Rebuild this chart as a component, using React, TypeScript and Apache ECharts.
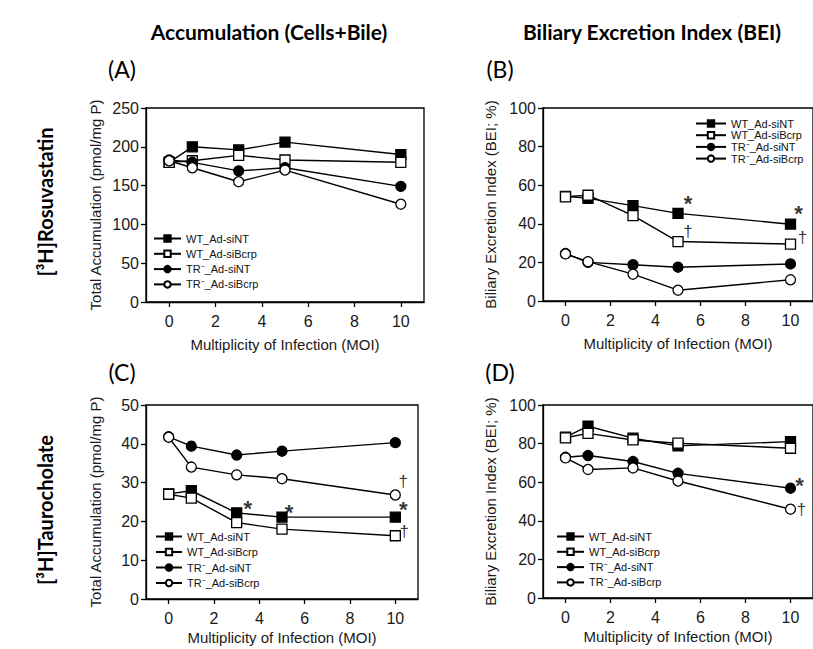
import React, { useEffect, useRef } from 'react';
import * as echarts from 'echarts';

// ---------- data ----------
const moi = [0, 1, 3, 5, 10];
const xTickValues = [0, 2, 4, 6, 8, 10];
const seriesNames = ['WT_Ad-siNT', 'WT_Ad-siBcrp', 'TR\u207B_Ad-siNT', 'TR\u207B_Ad-siBcrp'];

// (A) Rosuvastatin total accumulation (pmol/mg P)
const rosuAccWtSiNT = [180, 200, 196, 206, 190];
const rosuAccWtSiBcrp = [180, 182, 189, 183, 180];
const rosuAccTrSiNT = [183, 180, 169, 173, 149];
const rosuAccTrSiBcrp = [182, 173, 155, 170, 126];

// (B) Rosuvastatin BEI (%)
const rosuBeiWtSiNT = [54.2, 53.2, 49.4, 45.4, 39.8];
const rosuBeiWtSiBcrp = [54, 54.8, 44.2, 30.8, 29.5];
const rosuBeiTrSiNT = [24.6, 20, 18.8, 17.5, 19.2];
const rosuBeiTrSiBcrp = [24.4, 20.4, 13.9, 5.6, 11];

// (C) Taurocholate total accumulation (pmol/mg P)
const tcaAccWtSiNT = [27.1, 27.9, 22.2, 21.1, 21.1];
const tcaAccWtSiBcrp = [27, 26, 19.7, 18, 16.3];
const tcaAccTrSiNT = [41.8, 39.4, 37.1, 38.1, 40.3];
const tcaAccTrSiBcrp = [41.7, 34, 32, 31, 26.8];

// (D) Taurocholate BEI (%)
const tcaBeiWtSiNT = [83.3, 89, 82.8, 78.8, 81];
const tcaBeiWtSiBcrp = [83, 85.3, 81.9, 80.2, 77.6];
const tcaBeiTrSiNT = [72.9, 73.8, 70.7, 64.6, 56.9];
const tcaBeiTrSiBcrp = [72.6, 66.6, 67.4, 60.6, 46];

// significance marks: [moi, value of annotated point, mark]
const marksA: [number, number, string][] = [];
const marksB: [number, number, string][] = [
  [5, 45.4, '*'], [5, 30.8, '\u2020'], [10, 39.8, '*'], [10, 29.5, '\u2020'],
];
const marksC: [number, number, string][] = [
  [3, 22.2, '*'], [5, 21.1, '*'], [10, 26.8, '\u2020'], [10, 21.1, '*'], [10, 16.3, '\u2020'],
];
const marksD: [number, number, string][] = [
  [10, 56.9, '*'], [10, 46, '\u2020'],
];

const yTitleAcc = 'Total Accumulation (pmol/mg P)';
const yTitleBei = 'Biliary Excretion Index (BEI; %)';
const xTitle = 'Multiplicity of Infection (MOI)';

// ---------- styles ----------
const markOffsets: Record<string, [number, number][]> = {
  A: [],
  B: [[10, -10], [10, -10], [8, -11], [12, -7]],
  C: [[11, -4], [7, -5], [8, -14], [8, -8], [9, -4]],
  D: [[9, -3], [11, 0]],
};

const symbolStyles = [
  { symbol: 'rect', fill: '#000' },
  { symbol: 'rect', fill: '#fff' },
  { symbol: 'circle', fill: '#000' },
  { symbol: 'circle', fill: '#fff' },
];

const SANS = '"Liberation Sans", Arial, sans-serif';
const HEAD = 'Lato, "Open Sans", sans-serif';

export default function App() {
  const ref = useRef<HTMLDivElement>(null);
  useEffect(() => {
    if (!ref.current) return;
    const chart = echarts.init(ref.current, undefined, { renderer: 'svg' });

    const panels = [
      { key: 'A', grid: { left: 146, top: 108, width: 278, height: 194 }, yMax: 250, yInt: 50, yName: yTitleAcc, data: [rosuAccWtSiNT, rosuAccWtSiBcrp, rosuAccTrSiNT, rosuAccTrSiBcrp], marks: marksA, legend: { left: 153, top: 233, itemWidth: 27, itemGap: 4.3 } },
      { key: 'B', grid: { left: 543, top: 108, width: 277, height: 193 }, yMax: 100, yInt: 20, yName: yTitleBei, data: [rosuBeiWtSiNT, rosuBeiWtSiBcrp, rosuBeiTrSiNT, rosuBeiTrSiBcrp], marks: marksB, legend: { left: 695, top: 118, itemWidth: 30, itemGap: 0.7 } },
      { key: 'C', grid: { left: 146, top: 405, width: 272, height: 194 }, yMax: 50, yInt: 10, yName: yTitleAcc, data: [tcaAccWtSiNT, tcaAccWtSiBcrp, tcaAccTrSiNT, tcaAccTrSiBcrp], marks: marksC, legend: { left: 155, top: 531, itemWidth: 26, itemGap: 4.5 } },
      { key: 'D', grid: { left: 543, top: 405, width: 277, height: 193 }, yMax: 100, yInt: 20, yName: yTitleBei, data: [tcaBeiWtSiNT, tcaBeiWtSiBcrp, tcaBeiTrSiNT, tcaBeiTrSiBcrp], marks: marksD, legend: { left: 556, top: 531, itemWidth: 27, itemGap: 4.3 } },
    ];

    const grids: any[] = [];
    const xAxes: any[] = [];
    const yAxes: any[] = [];
    const series: any[] = [];
    const legends: any[] = [];

    panels.forEach((p, i) => {
      grids.push({ ...p.grid, show: true, borderColor: '#000', borderWidth: 1.3, backgroundColor: 'transparent', containLabel: false });
      xAxes.push({
        type: 'value', gridIndex: i, min: -1, max: 11,
        name: xTitle, nameLocation: 'middle', nameGap: p.key === 'A' || p.key === 'B' ? 35 : 31,
        nameTextStyle: { fontFamily: SANS, fontSize: 15, color: '#1a1a1a' },
        axisLine: { show: true, onZero: false, lineStyle: { color: '#000', width: 1.3 } },
        axisTick: { show: true, inside: false, length: 5, customValues: xTickValues, lineStyle: { color: '#000', width: 1.3 } },
        axisLabel: { show: true, margin: 11, customValues: xTickValues, fontFamily: SANS, fontSize: 16, color: '#1a1a1a' },
        splitLine: { show: false },
      });
      yAxes.push({
        type: 'value', gridIndex: i, min: 0, max: p.yMax, interval: p.yInt,
        name: p.yName, nameLocation: 'middle', nameGap: p.key === 'A' || p.key === 'C' ? 43 : 45,
        nameTextStyle: { fontFamily: SANS, fontSize: 15, color: '#1a1a1a' },
        axisLine: { show: true, onZero: false, lineStyle: { color: '#000', width: 1.3 } },
        axisTick: { show: true, inside: false, length: 5, lineStyle: { color: '#000', width: 1.3 } },
        axisLabel: { margin: 7, fontFamily: SANS, fontSize: 16, color: '#1a1a1a' },
        splitLine: { show: false },
      });
      p.data.forEach((vals, s) => {
        const st = symbolStyles[s];
        series.push({
          type: 'line', name: seriesNames[s], xAxisIndex: i, yAxisIndex: i,
          data: moi.map((m, k) => [m, vals[k]]),
          symbol: st.symbol, symbolSize: 10, showSymbol: true,
          lineStyle: { color: '#000', width: 1.4 },
          itemStyle: { color: st.fill, borderColor: '#000', borderWidth: 1.3 },
          z: 2 + s,
        });
      });
      if (p.marks.length) {
        const offs = markOffsets[p.key];
        series.push({
          type: 'scatter', name: 'marks' + p.key, xAxisIndex: i, yAxisIndex: i,
          symbolSize: 0, silent: true, z: 10,
          data: p.marks.map((m, k) => ({
            value: [m[0], m[1]],
            label: {
              show: true, position: 'inside', formatter: m[2], offset: offs[k],
              fontFamily: SANS, fontSize: m[2] === '*' ? 22 : 17,
              fontWeight: m[2] === '*' ? 'bold' : 'normal', color: '#000',
            },
          })),
        });
      }
      legends.push({
        data: seriesNames, orient: 'vertical', left: p.legend.left, top: p.legend.top,
        itemWidth: p.legend.itemWidth, itemHeight: 8, itemGap: p.legend.itemGap, padding: 0,
        selectedMode: false,
        textStyle: { fontFamily: SANS, fontSize: 11, lineHeight: 11, color: '#111' },
      });
    });

    const txt = (text: string, x: number, y: number, font: string, rotation = 0) => ({
      type: 'text', x, y, rotation,
      style: { text, font, fill: '#000', textAlign: 'center', textVerticalAlign: 'middle' },
    });

    chart.setOption({
      animation: false,
      backgroundColor: '#fff',
      grid: grids,
      xAxis: xAxes,
      yAxis: yAxes,
      legend: legends,
      series,
      graphic: [
        txt('Accumulation (Cells+Bile)', 269, 31, `bold 21px ${HEAD}`),
        txt('Biliary Excretion Index (BEI)', 652, 31, `bold 21px ${HEAD}`),
        txt('(A)', 122, 69, `23px ${HEAD}`),
        txt('(B)', 500, 69, `23px ${HEAD}`),
        txt('(C)', 122, 372, `23px ${HEAD}`),
        txt('(D)', 500, 372, `23px ${HEAD}`),
        txt('[\u00B3H]Rosuvastatin', 45, 202, `bold 20px ${HEAD}`, Math.PI / 2),
        txt('[\u00B3H]Taurocholate', 45, 510, `bold 20px ${HEAD}`, Math.PI / 2),
      ],
    });
    return () => chart.dispose();
  }, []);
  return <div ref={ref} style={{ position: 'fixed', left: 0, top: 0, width: 813, height: 649 }} />;
}
